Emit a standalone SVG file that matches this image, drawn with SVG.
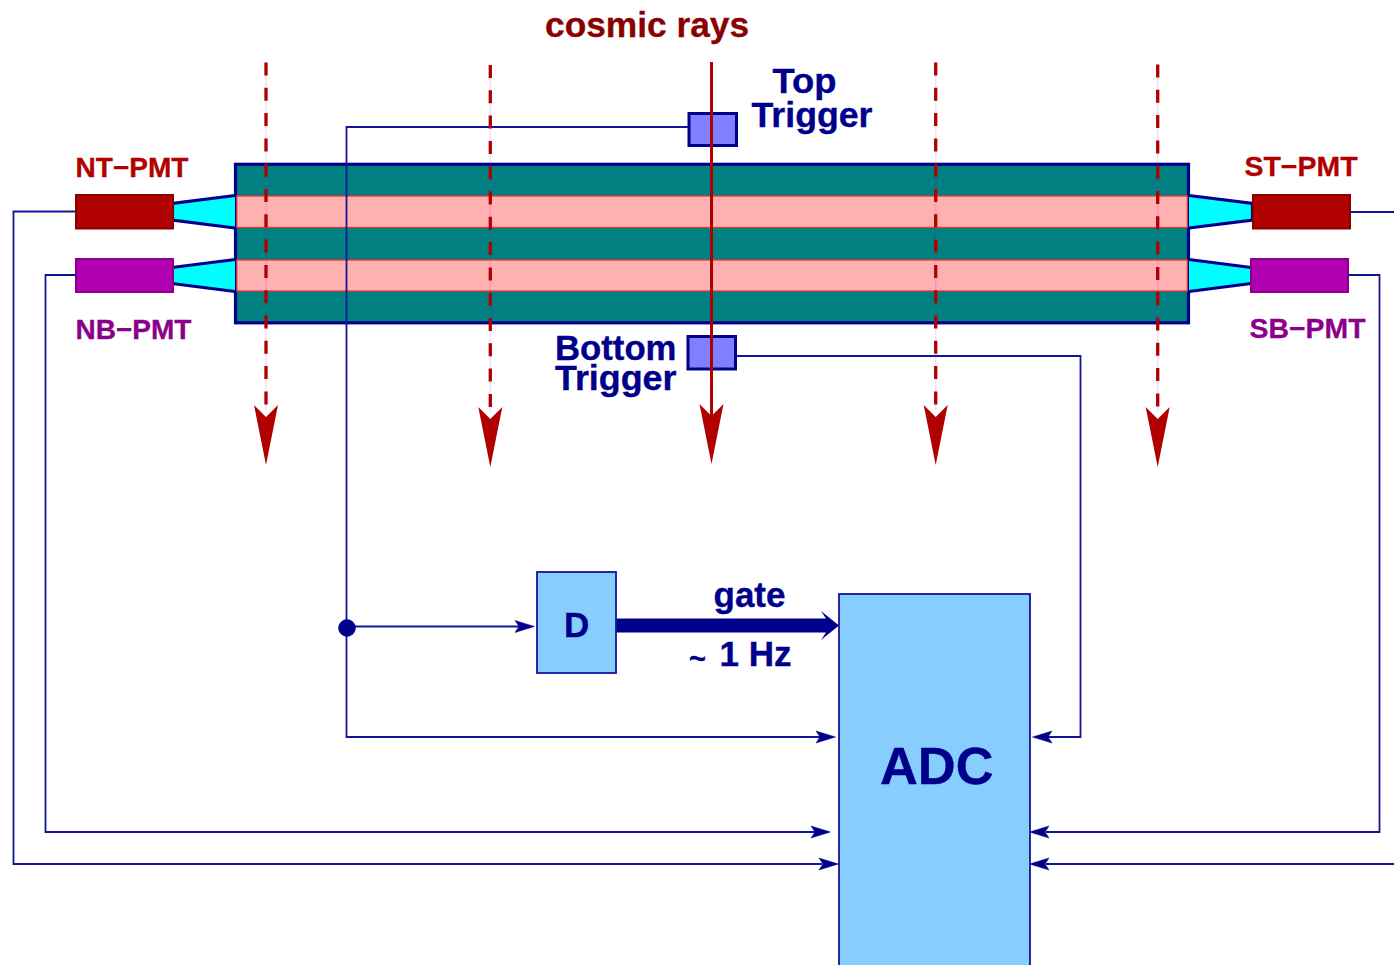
<svg xmlns="http://www.w3.org/2000/svg" width="1394" height="965" viewBox="0 0 1394 965">
<style>
text{font-family:"Liberation Sans",Arial,sans-serif;font-weight:bold}
.navy{fill:#00008b;stroke:#00008b;stroke-width:.35}
.big{font-size:35px}
.rd{fill:#b00000;stroke:#b00000;stroke-width:.3;font-size:28px}
.pu{fill:#8b008b;stroke:#8b008b;stroke-width:.3;font-size:28px}
.wire{fill:none;stroke:#14149a;stroke-width:1.8}
.ray{fill:none;stroke:#b00000;stroke-width:3.300;stroke-dasharray:13 12.300}
.halo{fill:none;stroke:#b000b0;stroke-width:1.500;opacity:.12}
.guide{fill:#00ffff;stroke:none}
.edge{fill:none;stroke:#00008b;stroke-width:3.200}
.strip{fill:#ffb0b0;stroke:#f03030;stroke-width:1.200}
.head{fill:#b00000}
.trig{fill:#8080ff;stroke:#00008b;stroke-width:3}
.box{fill:#87ceff;stroke:#14149a;stroke-width:1.800}
.small{fill:#00008b;stroke:#00008b;stroke-width:.5}
</style>
<defs>
<path id="bighead" class="head" d="M0 0L-12-60L0-48L12-60Z"/>
<path id="rh" class="small" d="M-.5 0L-20-6L-16 0L-20 6Z"/>
<path id="lh" class="small" d="M.5 0L20-6L16 0L20 6Z"/>
</defs>
<rect width="1394" height="965" fill="#fff"/>

<g id="scintillator">
<rect x="235.500" y="164.300" width="953" height="158.500" fill="#008080" stroke="#00008b" stroke-width="3.200"/>
<rect class="strip" x="236.800" y="196" width="950.500" height="31.500"/>
<rect class="strip" x="236.800" y="260" width="950.500" height="31"/>
</g>

<g id="guide-nt"><polygon class="guide" points="172,204 235,196 235,228 172,220"/><path class="edge" d="M235 195.500L172.500 203.500V220L235 228"/></g>
<g id="guide-nb"><polygon class="guide" points="172,268 235,260 235,291 172,284"/><path class="edge" d="M235 259.500L172 267.500M172 283.500L235 291.500"/></g>
<g id="guide-st"><polygon class="guide" points="1189,196 1252,204 1252,220 1189,228"/><path class="edge" d="M1189 195.500L1252.500 203.500V220L1189 228"/></g>
<g id="guide-sb"><polygon class="guide" points="1189,260 1251,268 1251,284 1189,291"/><path class="edge" d="M1189 259.500L1251 267.500M1251 283.500L1189 291.500"/></g>

<g id="nt-pmt"><rect x="76" y="195" width="97" height="33.500" fill="#b00000" stroke="#8b0000" stroke-width="2"/><text class="rd" x="75.500" y="177" textLength="113" lengthAdjust="spacingAndGlyphs">NT−PMT</text></g>
<g id="nb-pmt"><rect x="76" y="259" width="97" height="33" fill="#b000b0" stroke="#8b008b" stroke-width="2"/><text class="pu" x="75.500" y="339" textLength="116" lengthAdjust="spacingAndGlyphs">NB−PMT</text></g>
<g id="st-pmt"><rect x="1253" y="195" width="97" height="33.500" fill="#b00000" stroke="#8b0000" stroke-width="2"/><text class="rd" x="1244.500" y="176" textLength="113" lengthAdjust="spacingAndGlyphs">ST−PMT</text></g>
<g id="sb-pmt"><rect x="1251" y="259" width="97" height="33" fill="#b000b0" stroke="#8b008b" stroke-width="2"/><text class="pu" x="1249.500" y="338" textLength="116" lengthAdjust="spacingAndGlyphs">SB−PMT</text></g>

<g id="connectors">
<path class="wire" d="M689 127H346.500V737H820"/>
<path class="wire" d="M736 356H1080.500V737H1048"/>
<path class="wire" d="M347 626.500H520"/>
<path class="wire" d="M76 275H45.500V832H815"/>
<path class="wire" d="M76 211.500H13.500V864H822"/>
<path class="wire" d="M1350 212H1394"/>
<path class="wire" d="M1348 275H1379.500V832H1046"/>
<path class="wire" d="M1394 864H1046"/>
<use href="#rh" x="836" y="737"/>
<use href="#lh" x="1032" y="737"/>
<use href="#rh" x="535" y="626.500"/>
<use href="#rh" x="831" y="832"/>
<use href="#rh" x="839" y="864"/>
<use href="#lh" x="1029" y="832"/>
<use href="#lh" x="1029" y="864"/>
<path fill="#00008b" d="M616 618.500H826L821 611L839 625.500L821 640L826 632.500H616Z"/>
<circle class="small" cx="347" cy="628" r="8.500"/>
</g>

<g id="cosmic-rays">
<path class="halo" d="M266 62V410M490.300 65V412M935.700 62V410M1157.700 64V412"/>
<path class="ray" d="M266 62.500V410"/>
<path class="ray" d="M490.300 65V412"/>
<path class="ray" d="M935.700 62.500V410"/>
<path class="ray" d="M1157.700 64.500V412"/>
<use href="#bighead" x="266" y="465"/>
<use href="#bighead" x="490.300" y="467"/>
<use href="#bighead" x="935.700" y="465"/>
<use href="#bighead" x="1157.700" y="467"/>
<text x="545" y="37" font-size="35.300" fill="#8b0000" stroke="#8b0000" stroke-width=".3">cosmic rays</text>
</g>

<g id="top-trigger">
<rect class="trig" x="689" y="113.500" width="47.500" height="32"/>
<text class="navy big" x="772.500" y="93" textLength="64" lengthAdjust="spacingAndGlyphs">Top</text>
<text class="navy big" x="751.500" y="127" textLength="121" lengthAdjust="spacingAndGlyphs">Trigger</text>
</g>
<g id="bottom-trigger">
<rect class="trig" x="688" y="336.500" width="47.500" height="32.500"/>
<text class="navy big" x="555" y="360" textLength="121.500" lengthAdjust="spacingAndGlyphs">Bottom</text>
<text class="navy big" x="555" y="389.500" textLength="121.500" lengthAdjust="spacingAndGlyphs">Trigger</text>
</g>
<path id="central-ray" fill="none" stroke="#b00000" stroke-width="3" d="M711.500 62V420"/>
<use href="#bighead" x="711.500" y="464"/>

<g id="d-box">
<rect class="box" x="537" y="572" width="79" height="101"/>
<text class="navy big" x="564" y="637">D</text>
</g>
<text class="navy big" x="713.500" y="606.500" textLength="72" lengthAdjust="spacingAndGlyphs">gate</text>
<text class="navy big" y="666"><tspan x="689" dy="2" font-size="29">~ </tspan><tspan x="719.500" dy="-2">1 Hz</tspan></text>
<g id="adc">
<rect class="box" x="839" y="594" width="191" height="380"/>
<text class="navy" x="880" y="784" font-size="52" textLength="113.500" lengthAdjust="spacingAndGlyphs">ADC</text>
</g>
</svg>
